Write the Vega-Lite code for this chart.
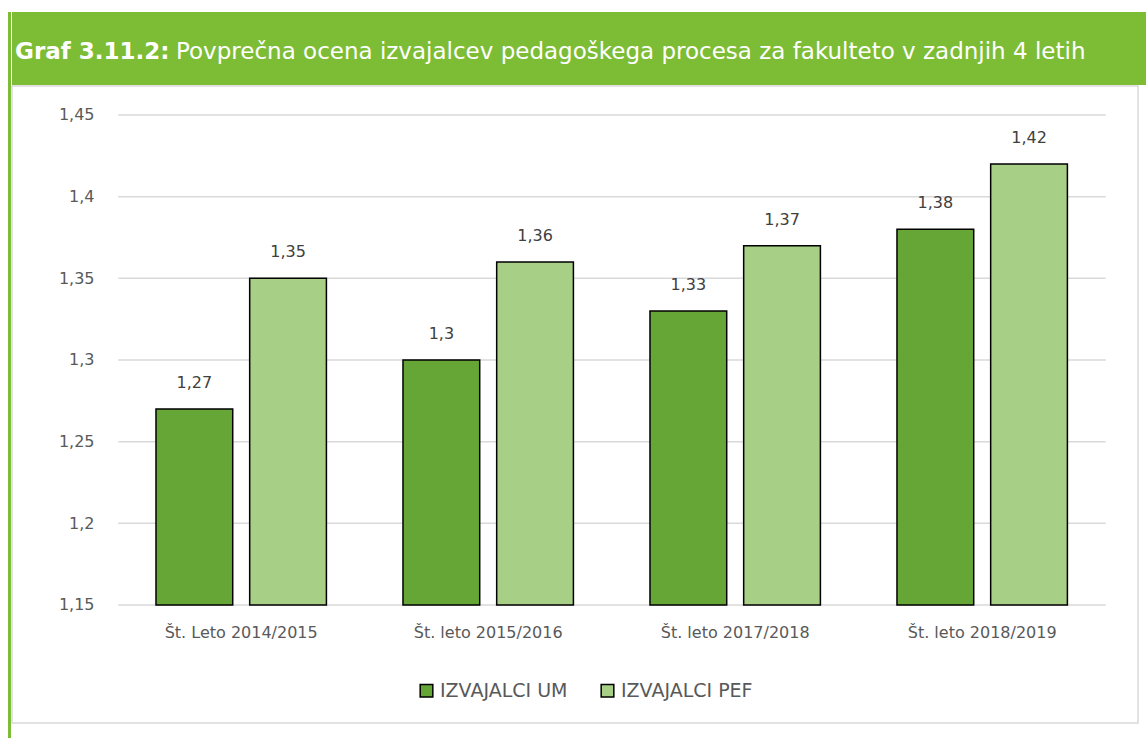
{
  "$schema": "https://vega.github.io/schema/vega-lite/v6.json",
  "padding": {"left": 8, "top": 12, "right": 0, "bottom": 0},
  "background": "white",
  "config": {
    "locale": {"number": {"decimal": ",", "thousands": ".", "grouping": [3], "currency": ["", " €"]}},
    "font": "DejaVu Sans",
    "view": {"stroke": null}
  },
  "spacing": 0,
  "hconcat": [
    {
      "width": 3,
      "height": 726,
      "view": {"fill": "#7dbd35", "stroke": null},
      "data": {"values": [{}]},
      "mark": {"type": "text", "text": ""},
      "encoding": {}
    },
    {
      "spacing": 0,
      "vconcat": [
        {
          "width": 1135,
          "height": 73,
          "view": {"fill": "#7dbd35", "stroke": null},
          "data": {"values": [{}]},
          "layer": [
            {
              "mark": {"type": "text", "text": "Graf 3.11.2:", "font": "DejaVu Sans", "fontWeight": "bold", "fontSize": 23, "color": "white", "align": "left", "baseline": "middle"},
              "encoding": {"x": {"value": 3}, "y": {"value": 40}}
            },
            {
              "mark": {"type": "text", "text": "Povprečna ocena izvajalcev pedagoškega procesa za fakulteto v zadnjih 4 letih", "font": "DejaVu Sans", "fontSize": 23, "color": "white", "align": "left", "baseline": "middle"},
              "encoding": {"x": {"value": 164}, "y": {"value": 40}}
            }
          ]
        },
        {
          "width": 1126,
          "height": 637,
          "view": {"stroke": "#d9d9d9", "strokeWidth": 1.5},
          "layer": [
            {
              "data": {"values": [{"mreza": 1.15}, {"mreza": 1.2}, {"mreza": 1.25}, {"mreza": 1.3}, {"mreza": 1.35}, {"mreza": 1.4}, {"mreza": 1.45}]},
              "mark": {"type": "rule", "color": "#d9d9d9", "strokeWidth": 1.5},
              "encoding": {
                "y": {"field": "mreza", "type": "quantitative", "title": null},
                "x": {"datum": "Št. Leto 2014/2015", "bandPosition": -0.222, "title": null},
                "x2": {"datum": "Št. leto 2018/2019", "bandPosition": 1.225}
              }
            },
            {
              "data": {
                "values": [
                  {"leto": "Št. Leto 2014/2015", "skupina": "IZVAJALCI UM", "ocena": 1.27},
                  {"leto": "Št. Leto 2014/2015", "skupina": "IZVAJALCI PEF", "ocena": 1.35},
                  {"leto": "Št. leto 2015/2016", "skupina": "IZVAJALCI UM", "ocena": 1.30},
                  {"leto": "Št. leto 2015/2016", "skupina": "IZVAJALCI PEF", "ocena": 1.36},
                  {"leto": "Št. leto 2017/2018", "skupina": "IZVAJALCI UM", "ocena": 1.33},
                  {"leto": "Št. leto 2017/2018", "skupina": "IZVAJALCI PEF", "ocena": 1.37},
                  {"leto": "Št. leto 2018/2019", "skupina": "IZVAJALCI UM", "ocena": 1.38},
                  {"leto": "Št. leto 2018/2019", "skupina": "IZVAJALCI PEF", "ocena": 1.42}
                ]
              },
              "encoding": {
                "x": {
                  "field": "leto", "type": "nominal",
                  "sort": ["Št. Leto 2014/2015", "Št. leto 2015/2016", "Št. leto 2017/2018", "Št. leto 2018/2019"],
                  "scale": {"domain": ["Št. Leto 2014/2015", "Št. leto 2015/2016", "Št. leto 2017/2018", "Št. leto 2018/2019"], "paddingInner": 0.31, "paddingOuter": 0.4344, "align": 0.671},
                  "axis": {"title": null, "bandPosition": 0.5, "labelAlign": "center", "labelAngle": 0, "labelFontSize": 16, "labelColor": "#595959", "labelPadding": 27, "ticks": false, "domain": false, "grid": false, "offset": -118}
                },
                "xOffset": {"field": "skupina", "type": "nominal", "sort": ["IZVAJALCI UM", "IZVAJALCI PEF"], "scale": {"paddingInner": 0.181, "paddingOuter": 0}},
                "y": {
                  "field": "ocena", "type": "quantitative",
                  "scale": {"domain": [1.077755, 1.467755], "zero": false, "nice": false},
                  "axis": {"title": null, "values": [1.15, 1.2, 1.25, 1.3, 1.35, 1.4, 1.45], "format": ".2~f", "labelFontSize": 16, "labelColor": "#595959", "labelPadding": 8, "ticks": false, "domain": false, "grid": false, "offset": -90}
                }
              },
              "layer": [
                {
                  "mark": {"type": "bar", "stroke": "#000000", "strokeWidth": 1.5},
                  "encoding": {
                    "y2": {"datum": 1.15},
                    "fill": {
                      "field": "skupina", "type": "nominal",
                      "scale": {"domain": ["IZVAJALCI UM", "IZVAJALCI PEF"], "range": ["#66a637", "#a8cf86"]},
                      "legend": {"title": null, "orient": "none", "legendX": 409, "legendY": 669, "direction": "horizontal", "symbolType": "square", "symbolSize": 160, "symbolStrokeColor": "#000000", "symbolStrokeWidth": 1.5, "labelFontSize": 19, "labelColor": "#595959", "columnPadding": 30}
                    }
                  }
                },
                {
                  "mark": {"type": "text", "dy": -26, "fontSize": 16, "color": "#404040", "baseline": "middle"},
                  "encoding": {"text": {"field": "ocena", "type": "quantitative", "format": ".2~f"}}
                }
              ]
            }
          ]
        }
      ]
    }
  ]
}
